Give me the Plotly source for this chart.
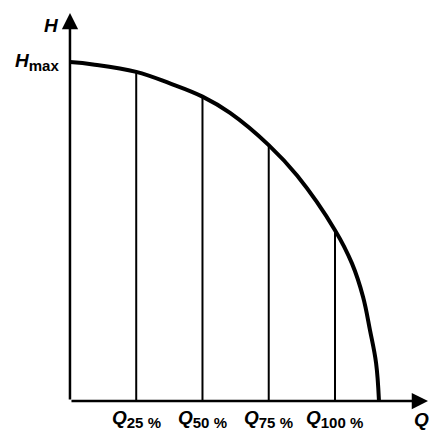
import numpy as np
import plotly.graph_objs as go

# pump curve H(Q) (Q in % of nominal flow, H in % of Hmax)
curve_q = [0, 8.7, 25, 37.7, 50, 60.4, 75, 85.7, 100, 106.4, 110.6, 113.2, 115.5, 116.6]
curve_h = [100, 99.3, 97.1, 93.7, 89.8, 85.0, 75.5, 66.5, 50.4, 40.6, 30.7, 20.9, 11.2, 0]

# operating points marked by vertical lines
mark_q = [25, 50, 75, 100]
mark_h = [97.1, 89.8, 75.5, 50.4]
mark_subs = ["25 %", "50 %", "75 %", "100 %"]

h_max = 100
q_end = 135.1   # arrow tip of the Q axis
h_end = 114.5   # arrow tip of the H axis

FONT = "Liberation Sans, Arial, sans-serif"
SUB = "<sub><span style='font-size:15px'>%s</span></sub>"

fig = go.Figure()

# vertical lines at the operating points
for q, h in zip(mark_q, mark_h):
    fig.add_trace(go.Scatter(x=[q, q], y=[0, h], mode="lines",
                             line=dict(color="black", width=2), hoverinfo="skip"))

# the curve itself
fig.add_trace(go.Scatter(x=curve_q, y=curve_h, mode="lines",
                         line=dict(color="black", width=4, shape="spline", smoothing=1.1),
                         hoverinfo="skip"))

# axes with arrows
fig.add_annotation(x=q_end, y=0, ax=0, ay=0, xref="x", yref="y", axref="x", ayref="y",
                   text="", showarrow=True, arrowhead=2, arrowsize=1.3, arrowwidth=2.5,
                   arrowcolor="black", standoff=0)
fig.add_annotation(x=0, y=h_end, ax=0, ay=0, xref="x", yref="y", axref="x", ayref="y",
                   text="", showarrow=True, arrowhead=2, arrowsize=1.3, arrowwidth=2.5,
                   arrowcolor="black", standoff=0)

# labels
lab_font = dict(family=FONT, size=19, color="black")
for q, s in zip(mark_q, mark_subs):
    fig.add_annotation(x=q, y=-5.3, text="<b><i>Q</i>" + SUB % s + "</b>", showarrow=False,
                       xanchor="center", yanchor="middle", font=lab_font)
fig.add_annotation(x=132.5, y=-5.6, text="<b><i>Q</i></b>", showarrow=False,
                   xanchor="center", yanchor="middle", font=lab_font)
fig.add_annotation(x=-6.8, y=110.9, text="<b><i>H</i></b>", showarrow=False,
                   xanchor="center", yanchor="middle", font=lab_font)
fig.add_annotation(x=-3.2, y=h_max, text="<b><i>H</i>" + SUB % "max" + "</b>", showarrow=False,
                   xanchor="right", yanchor="middle", font=lab_font)

fig.update_layout(
    width=430, height=431,
    margin=dict(l=0, r=0, t=0, b=0),
    paper_bgcolor="white", plot_bgcolor="white",
    showlegend=False,
    xaxis=dict(range=[-26.4, 135.85], visible=False, fixedrange=True),
    yaxis=dict(range=[-8.85, 118.3], visible=False, fixedrange=True),
)

# drop the default page margin so the figure fills the window exactly
fig.write_html("out.html", config={"displayModeBar": False},
               post_script="document.body.style.margin='0';document.body.style.overflow='hidden';")
